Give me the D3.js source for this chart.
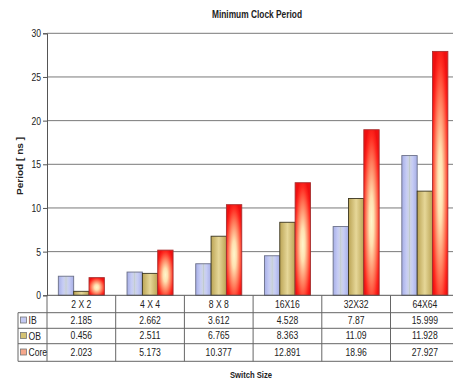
<!DOCTYPE html>
<html>
<head>
<meta charset="utf-8">
<script src="https://cdn.jsdelivr.net/npm/d3@7"></script>
<style>
  html, body { margin: 0; padding: 0; background: #fff; }
  svg { display: block; }
  text { font-family: "Liberation Sans", Arial, sans-serif; fill: #222; }
  .bold { font-weight: bold; }
</style>
</head>
<body>
<script>
// Minimum clock period per switch size
const categories = ["2 X 2", "4 X 4", "8 X 8", "16X16", "32X32", "64X64"];
const seriesNames = ["IB", "OB", "Core"];
const ibValues = [2.185, 2.662, 3.612, 4.528, 7.87, 15.999];
const obValues = [0.456, 2.511, 6.765, 8.363, 11.09, 11.928];
const coreValues = [2.023, 5.173, 10.377, 12.891, 18.96, 27.927];
const yTicks = [0, 5, 10, 15, 20, 25, 30];

const series = [
  { name: "IB", values: ibValues, fill: "url(#gIB)", stroke: "#6a6f88", swatch: "#c3c9f2" },
  { name: "OB", values: obValues, fill: "url(#gOB)", stroke: "#3a3520", swatch: "#d4c273" },
  { name: "Core", values: coreValues, fill: "url(#gCore)", stroke: "#a83030", swatch: "#f6a88c" }
];

const W = 453, H = 382;
const plot = { left: 47, right: 459.2, top: 33.3, bottom: 295.3 };
const tableTop = plot.bottom, rowH = [17.4, 15.6, 15.4, 17.6];
const labelLeft = 18;
const squeeze = 0.86; // horizontal condensing of the small labels

const svg = d3.select("body").append("svg").attr("width", W).attr("height", H);

// condensed text helper: anchor at (x, y), squeezed horizontally
function narrowText(g, x, y, str, size, anchor) {
  return g.append("text")
    .attr("transform", `translate(${x},${y}) scale(${squeeze},1)`)
    .attr("text-anchor", anchor || "middle")
    .attr("font-size", size)
    .text(str);
}

// gradients for the bar fills
const defs = svg.append("defs");
function linGrad(id, stops) {
  const g = defs.append("linearGradient").attr("id", id)
    .attr("x1", 0).attr("x2", 1).attr("y1", 0).attr("y2", 0);
  stops.forEach(s => g.append("stop").attr("offset", s[0]).attr("stop-color", s[1]));
}
linGrad("gIB", [[0, "#a7afe6"], [0.3, "#c6ccf5"], [0.45, "#cdd3e6"], [0.5, "#bfcacc"], [0.55, "#cdd3e6"], [0.7, "#c6ccf5"], [1, "#a7afe6"]]);
linGrad("gOB", [[0, "#bba455"], [0.5, "#e6d798"], [1, "#bba455"]]);
const rg = defs.append("radialGradient").attr("id", "gCore")
  .attr("cx", 0.5).attr("cy", 0.55).attr("r", 0.6);
[[0, "#fff6cc"], [0.25, "#ffe0b0"], [0.6, "#ff7a5a"], [0.85, "#ff2a20"], [1, "#f01010"]]
  .forEach(s => rg.append("stop").attr("offset", s[0]).attr("stop-color", s[1]));

const x0 = d3.scaleBand().domain(categories).range([plot.left, plot.right]);
const x1 = d3.scaleBand().domain(seriesNames)
  .range([x0.bandwidth() * 0.165, x0.bandwidth() * 0.835]);
const y = d3.scaleLinear().domain([0, 30]).range([plot.bottom, plot.top]);

// title
svg.append("text").attr("class", "bold").attr("x", 257).attr("y", 18)
  .attr("text-anchor", "middle").attr("font-size", 10.5)
  .attr("textLength", 90).attr("lengthAdjust", "spacingAndGlyphs")
  .text("Minimum Clock Period");

// gridlines
svg.append("g").selectAll("line").data(yTicks.filter(d => d > 0)).join("line")
  .attr("x1", plot.left).attr("x2", plot.right)
  .attr("y1", d => y(d)).attr("y2", d => y(d))
  .attr("stroke", "#7a7a7a").attr("stroke-width", 1);

// y axis
const yAxis = d3.axisLeft(y).tickValues(yTicks).tickSize(4).tickFormat(() => "");
const ya = svg.append("g").attr("transform", `translate(${plot.left},0)`).call(yAxis);
ya.select(".domain").attr("stroke", "#555");
ya.selectAll(".tick line").attr("stroke", "#555");
ya.selectAll(".tick").each(function (d) {
  narrowText(d3.select(this), -6, 3.5, d, 10, "end");
});

svg.append("text").attr("class", "bold")
  .attr("transform", `translate(23,166) rotate(-90)`)
  .attr("text-anchor", "middle").attr("font-size", 9.5)
  .attr("textLength", 58).attr("lengthAdjust", "spacingAndGlyphs")
  .text("Period [ ns ]");

// bars
const groups = svg.append("g").selectAll("g").data(categories).join("g")
  .attr("transform", d => `translate(${x0(d)},0)`);
groups.selectAll("rect")
  .data((c, i) => series.map(s => ({ s, v: s.values[i] })))
  .join("rect")
  .attr("x", d => x1(d.s.name))
  .attr("width", x1.bandwidth())
  .attr("y", d => y(d.v))
  .attr("height", d => y(0) - y(d.v))
  .attr("fill", d => d.s.fill)
  .attr("stroke", d => d.s.stroke)
  .attr("stroke-width", 0.9);

// data table
const tg = svg.append("g");
const rowY = [tableTop];
rowH.forEach((h, i) => rowY.push(rowY[i] + h));
const lineC = "#666";
rowY.forEach((yy, i) => {
  tg.append("line").attr("x1", i === 0 ? plot.left : labelLeft).attr("x2", plot.right)
    .attr("y1", yy).attr("y2", yy).attr("stroke", i === 0 ? "#555" : lineC).attr("stroke-width", 1);
});
tg.append("line").attr("x1", labelLeft).attr("x2", labelLeft)
  .attr("y1", rowY[1]).attr("y2", rowY[4]).attr("stroke", lineC);
tg.append("line").attr("x1", plot.left).attr("x2", plot.left)
  .attr("y1", rowY[0]).attr("y2", rowY[4]).attr("stroke", lineC);
categories.forEach(c => {
  const xr = x0(c) + x0.bandwidth();
  tg.append("line").attr("x1", xr).attr("x2", xr)
    .attr("y1", rowY[0]).attr("y2", rowY[4]).attr("stroke", lineC);
});
// header row
categories.forEach(c => {
  narrowText(tg, x0(c) + x0.bandwidth() / 2, rowY[0] + 12.5, c, 10);
});
// series rows
series.forEach((s, r) => {
  const yy = rowY[r + 1];
  const h = rowH[r + 1];
  tg.append("rect").attr("x", 20.5).attr("y", yy + h / 2 - 3.5)
    .attr("width", 6).attr("height", 6)
    .attr("fill", s.swatch).attr("stroke", "#777").attr("stroke-width", 0.8);
  narrowText(tg, 28.5, yy + h / 2 + 3.6, s.name, 10, "start");
  s.values.forEach((v, i) => {
    narrowText(tg, x0(categories[i]) + x0.bandwidth() / 2, yy + h / 2 + 3.4, v, 10);
  });
});

// x label
svg.append("text").attr("class", "bold").attr("x", 251).attr("y", 378)
  .attr("text-anchor", "middle").attr("font-size", 9.5)
  .attr("textLength", 42).attr("lengthAdjust", "spacingAndGlyphs")
  .text("Switch Size");
</script>
</body>
</html>
